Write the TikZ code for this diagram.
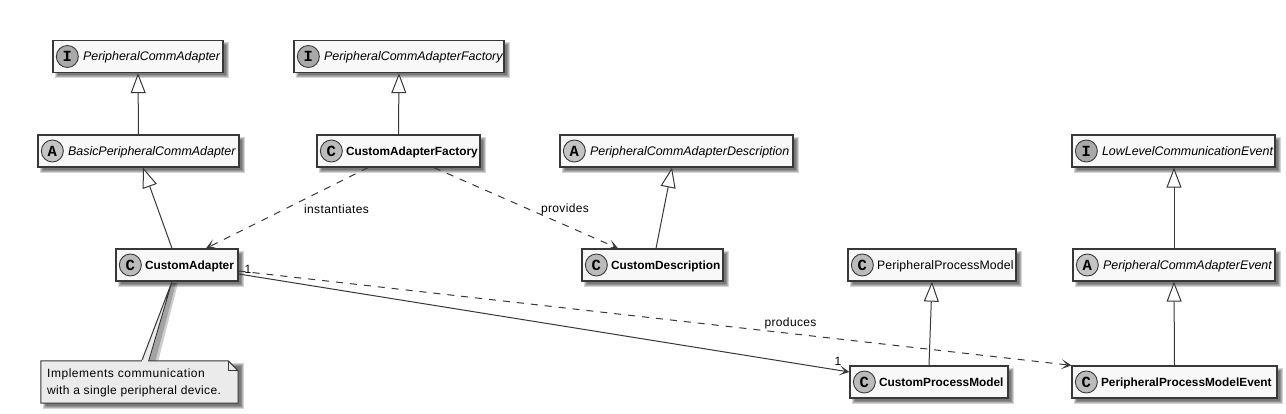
\documentclass[tikz,border=0pt]{standalone}
\usepackage{fontspec}
\setmainfont{Liberation Sans}
\newfontfamily\spotfont{Liberation Mono}
\usetikzlibrary{arrows.meta}
\definecolor{umlline}{HTML}{383838}
\definecolor{umlfill}{HTML}{F8F8F8}
\definecolor{notefill}{HTML}{EBEBEB}
\definecolor{spotI}{HTML}{A9A9A9}
\definecolor{spotA}{HTML}{C4C4C4}
\definecolor{spotC}{HTML}{BBBBBB}
\tikzset{
  classbox/.style={draw=umlline,line width=1.3pt,fill=umlfill,minimum height=32pt,inner sep=0pt},
  spot/.style={circle,draw=umlline,line width=0.9pt,minimum size=22pt,inner sep=0pt,font=\spotfont\bfseries\fontsize{15.5}{15}\selectfont,text=black},
  labeltext/.style={anchor=west,inner sep=0pt,text height=9.5pt,text depth=2.5pt,yshift=-1pt},
  abstractname/.style={font=\fontsize{12.45}{14}\selectfont\itshape,xshift=1pt},
  boldname/.style={font=\fontsize{11.85}{14}\selectfont\bfseries},
  plainname/.style={font=\fontsize{12.3}{14}\selectfont\addfontfeature{LetterSpace=1}},
  edgetext/.style={inner sep=0pt,font=\fontsize{12}{14}\selectfont\addfontfeature{LetterSpace=3},text=black},
  widenote/.style={edgetext,font=\fontsize{12}{14}\selectfont\addfontfeature{LetterSpace=4.4}},
  softlayer/.style={fill=black,opacity=0.17},
  leaderlayer/.style={fill=black,opacity=0.2},
  extends/.style={draw=umlline,line width=1pt,-{Triangle[open,length=20pt,width=15pt,fill=white]}},
  uses/.style={draw=umlline,line width=1pt,dash pattern=on 7pt off 7pt,-{Stealth[length=10pt,width=10pt,inset=5.5pt]}},
  assoc/.style={draw=umlline,line width=1pt,-{Stealth[length=10pt,width=10pt,inset=5.5pt]}},
  notebody/.style={draw=umlline,line width=1pt,fill=notefill}
}
\newcommand{\softrect}[5]{% x0 y0 x1 y1 fill opacity is layered
  \foreach \k in {-1,0,1,2}{\fill[softlayer] ({#1+4-\k},{#2+4-\k}) rectangle ({#3+4+\k},{#4+4+\k});}
}
\newcommand{\umlclass}[8]{% name cx cy w letter spotcolour namestyle text
  \softrect{#2-#4/2}{#3-16}{#2+#4/2}{#3+16}{}
  \node[classbox,minimum width=#4pt] (#1) at (#2,#3) {};
  \node[spot,fill=#6] (#1-spot) at ([xshift=15pt]#1.west) {#5};
  \node[labeltext,#7] (#1-name) at ([xshift=29.5pt]#1.west) {#8};
}
\begin{document}
\begin{tikzpicture}[x=1pt,y=-1pt]
\useasboundingbox (0,0) rectangle (1286,414);
\fill[white] (0,0) rectangle (1286,414);
% note shadow and leader shadow
\fill[leaderlayer] (172,283) -- (176,283) -- (154,366) -- (148,366) -- cycle;
\fill[leaderlayer] (172,283) -- (178,283) -- (157,366) -- (148,366) -- cycle;
\softrect{41}{361}{238}{403}{}
\umlclass{PCA}{138}{56.5}{170}{I}{spotI}{abstractname}{PeripheralCommAdapter}
\umlclass{BPCA}{138.5}{151}{201}{A}{spotA}{abstractname}{BasicPeripheralCommAdapter}
\umlclass{PCAF}{399}{56.5}{210}{I}{spotI}{abstractname}{PeripheralCommAdapterFactory}
\umlclass{CAF}{398.5}{151}{163}{C}{spotC}{boldname}{CustomAdapterFactory}
\umlclass{PCAD}{676.5}{151}{233}{A}{spotA}{abstractname}{PeripheralCommAdapterDescription}
\umlclass{CD}{652.5}{265}{141}{C}{spotC}{boldname}{CustomDescription}
\umlclass{CA}{177}{265}{122}{C}{spotC}{boldname}{CustomAdapter}
\umlclass{LLCE}{1173.5}{151}{203}{I}{spotI}{abstractname}{LowLevelCommunicationEvent}
\umlclass{PCAE}{1174}{265}{202}{A}{spotA}{abstractname}{PeripheralCommAdapterEvent}
\umlclass{PPM}{932}{265}{168}{C}{spotC}{plainname}{PeripheralProcessModel}
\umlclass{CPM}{929}{382}{158}{C}{spotC}{boldname}{CustomProcessModel}
\umlclass{PPME}{1174.5}{382}{205}{C}{spotC}{boldname}{PeripheralProcessModelEvent}
% note
\node[minimum width=197pt,minimum height=42pt,inner sep=0pt] (note) at (139.5,382) {};
\fill[notefill] ([xshift=-5pt]CA.south) -- ([xshift=101pt]note.north west) -- ([xshift=108pt]note.north west) -- cycle;
\draw[umlline,line width=1pt] ([xshift=101pt]note.north west) -- ([xshift=-5pt]CA.south) -- ([xshift=108pt]note.north west);
\path[notebody] (note.north west) -- ([xshift=-10pt]note.north east) -- ([yshift=-10pt]note.north east) -- (note.south east) -- (note.south west) -- cycle;
\draw[umlline,line width=1pt] ([xshift=-10pt]note.north east) |- ([yshift=-10pt]note.north east);
\fill[notefill] ([xshift=101.5pt,yshift=-1pt]note.north west) rectangle ([xshift=107.5pt,yshift=1pt]note.north west);
\node[widenote,anchor=west] (note-a) at (47,374.5) {Implements communication};
\node[edgetext,anchor=west] (note-b) at (47,391.5) {with a single peripheral device.};
% connectors
\draw[extends] (BPCA.north) -- (PCA.south);
\draw[extends] (CAF.north) -- (PCAF.south);
\draw[extends] ([xshift=-5pt]CA.north) -- ([xshift=4.5pt]BPCA.south);
\draw[extends] ([xshift=3.5pt]CD.north) -- ([xshift=-4.5pt]PCAD.south);
\draw[extends] (CPM.north) -- (PPM.south);
\draw[extends] (PPME.north) -- (PCAE.south);
\draw[extends] (PCAE.north) -- ([xshift=0.5pt]LLCE.south);
\draw[uses] ([xshift=-30.5pt]CAF.south) -- ([xshift=29pt]CA.north);
\draw[uses] ([xshift=35.5pt]CAF.south) -- ([xshift=-34.5pt]CD.north);
\draw[uses] ([yshift=-6pt]CA.east) -- (PPME.north west);
\draw[assoc] ([yshift=-9pt]CA.east) -- ([yshift=10pt]CPM.west);
% labels
\node[edgetext] (l-inst) at (336.5,209) {instantiates};
\node[edgetext] (l-prov) at (565,209) {provides};
\node[edgetext] (l-prod) at (790.5,323) {produces};
\node[edgetext] (l-one) at (248,269) {1};
\node[edgetext] (l-two) at (838,361) {1};
\end{tikzpicture}
\end{document}
